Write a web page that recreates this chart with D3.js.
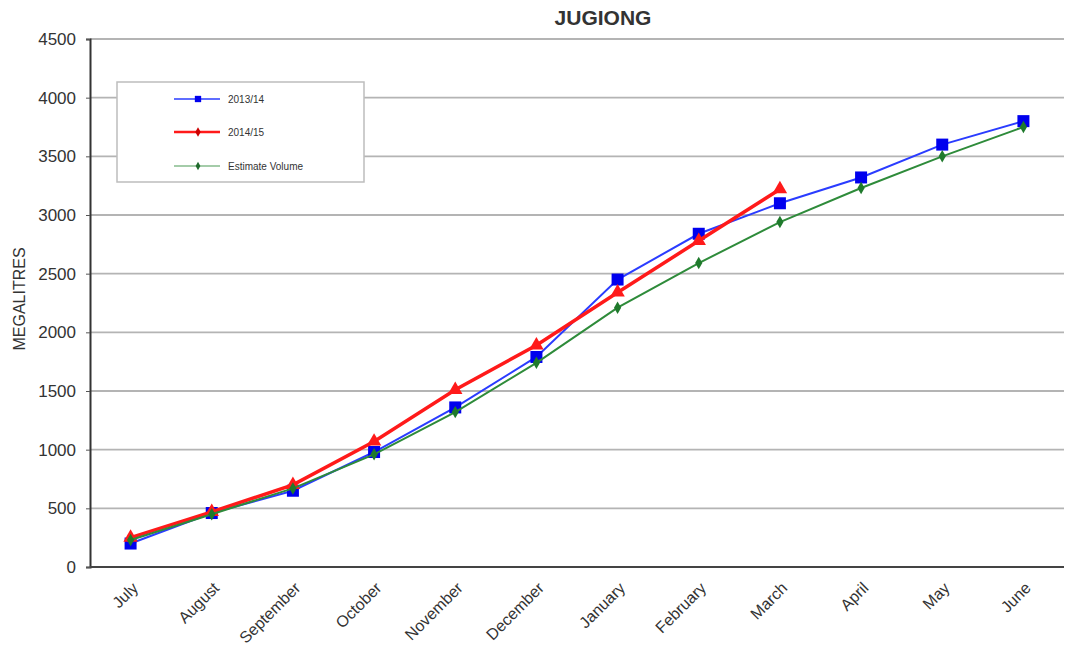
<!DOCTYPE html>
<html>
<head>
<meta charset="utf-8">
<script src="https://cdn.jsdelivr.net/npm/d3@7"></script>
<style>
  html, body { margin: 0; padding: 0; background: #fff; }
  svg { display: block; font-family: Arial, "Liberation Sans", sans-serif; }
</style>
</head>
<body>
<svg id="chart" width="1066" height="656"></svg>
<script>
// Monthly cumulative volumes at Jugiong (megalitres)
const months = ["July", "August", "September", "October", "November", "December",
                "January", "February", "March", "April", "May", "June"];
const yTicks = [0, 500, 1000, 1500, 2000, 2500, 3000, 3500, 4000, 4500];
const season2013 = [200, 460, 650, 980, 1360, 1790, 2450, 2840, 3100, 3320, 3600, 3800];
const season2014 = [250, 470, 700, 1070, 1510, 1890, 2340, 2780, 3220];
const estimateVolume = [230, 450, 670, 960, 1320, 1740, 2210, 2590, 2940, 3230, 3500, 3750];
const seriesNames = ["2013/14", "2014/15", "Estimate Volume"];

const svg = d3.select("#chart");
const margin = { left: 90, right: 2, top: 39, bottom: 89 };
const W = 1066, H = 656;
const FONT = "Arial, 'Liberation Sans', sans-serif";

const x = d3.scalePoint().domain(months).range([margin.left, W - margin.right]).padding(0.5);
const y = d3.scaleLinear().domain([0, 4500]).range([H - margin.bottom, margin.top]);

// horizontal grid lines
svg.append("g").selectAll("line").data(yTicks.slice(1)).join("line")
  .attr("x1", margin.left).attr("x2", W - margin.right)
  .attr("y1", d => y(d)).attr("y2", d => y(d))
  .attr("stroke", "#b4b4b4").attr("stroke-width", 1.8);

// y axis
const yAxis = svg.append("g").attr("transform", `translate(${margin.left},0)`)
  .call(d3.axisLeft(y).tickValues(yTicks).tickFormat(d3.format("d")).tickSize(4).tickPadding(10));
yAxis.select(".domain").attr("stroke", "#333").attr("stroke-width", 2);
yAxis.selectAll(".tick line").attr("stroke", "#555");
yAxis.selectAll("text").attr("font-size", 17).attr("fill", "#333").attr("font-family", FONT);

// x axis
const xAxis = svg.append("g").attr("transform", `translate(0,${y(0)})`)
  .call(d3.axisBottom(x).tickSize(0).tickPadding(0));
xAxis.select(".domain").attr("stroke", "#444").attr("stroke-width", 2.2)
  .attr("d", `M${margin.left},0H${W - margin.right}`);
xAxis.selectAll("text")
  .attr("font-size", 16).attr("fill", "#333").attr("font-family", FONT)
  .attr("text-anchor", "end")
  .attr("dy", 0)
  .attr("transform", "translate(8,22) rotate(-45)");

// axis title and chart title
svg.append("text").attr("transform", `translate(25,${(y(0) + y(4500)) / 2 - 4}) rotate(-90)`)
  .attr("text-anchor", "middle").attr("font-size", 16).attr("fill", "#333")
  .text("MEGALITRES");
svg.append("text").attr("x", 603).attr("y", 25).attr("text-anchor", "middle")
  .attr("font-size", 21).attr("font-weight", "bold").attr("fill", "#333")
  .text("JUGIONG");

const line = d3.line().x((d, i) => x(months[i])).y(d => y(d));

// 2013/14 series: blue with square markers
svg.append("path").datum(season2013).attr("d", line)
  .attr("fill", "none").attr("stroke", "#2a3cff").attr("stroke-width", 2);
svg.append("g").selectAll("rect").data(season2013).join("rect")
  .attr("x", (d, i) => x(months[i]) - 6).attr("y", d => y(d) - 6)
  .attr("width", 12).attr("height", 12).attr("fill", "#0000ee");

// 2014/15 series: thick red with triangle markers
svg.append("path").datum(season2014).attr("d", line)
  .attr("fill", "none").attr("stroke", "#ff1a1a").attr("stroke-width", 3.5);
const tri = d3.symbol().type(d3.symbolTriangle).size(90);
svg.append("g").selectAll("path").data(season2014).join("path")
  .attr("d", tri)
  .attr("transform", (d, i) => `translate(${x(months[i])},${y(d)})`)
  .attr("fill", "#ff1a1a");

// estimate series: green with small diamond markers
svg.append("path").datum(estimateVolume).attr("d", line)
  .attr("fill", "none").attr("stroke", "#2e8b3a").attr("stroke-width", 2);
const dia = d3.symbol().type(d3.symbolDiamond).size(45);
svg.append("g").selectAll("path").data(estimateVolume).join("path")
  .attr("d", dia)
  .attr("transform", (d, i) => `translate(${x(months[i])},${y(d)})`)
  .attr("fill", "#1f7a2c");

// legend
const lg = svg.append("g");
lg.append("rect").attr("x", 117).attr("y", 82).attr("width", 247).attr("height", 100)
  .attr("fill", "#fff").attr("stroke", "#bdbdbd").attr("stroke-width", 1.5);
const legendStyles = [
  { color: "#2a3cff", mark: "#0000ee", w: 1.5, sym: d3.symbolSquare, size: 40 },
  { color: "#ff1a1a", mark: "#cc0000", w: 2.5, sym: d3.symbolDiamond, size: 25 },
  { color: "#4a9a55", mark: "#1f6a2c", w: 1.2, sym: d3.symbolDiamond, size: 20 }
];
const rowsY = [99, 132, 166];
seriesNames.forEach((name, i) => {
  const s = legendStyles[i];
  lg.append("line").attr("x1", 174).attr("x2", 220).attr("y1", rowsY[i]).attr("y2", rowsY[i])
    .attr("stroke", s.color).attr("stroke-width", s.w);
  lg.append("path").attr("d", d3.symbol().type(s.sym).size(s.size)())
    .attr("transform", `translate(198,${rowsY[i]})`).attr("fill", s.mark);
  lg.append("text").attr("x", 228).attr("y", rowsY[i] + 3.5).attr("font-size", 10)
    .attr("fill", "#333").text(name);
});
</script>
</body>
</html>
